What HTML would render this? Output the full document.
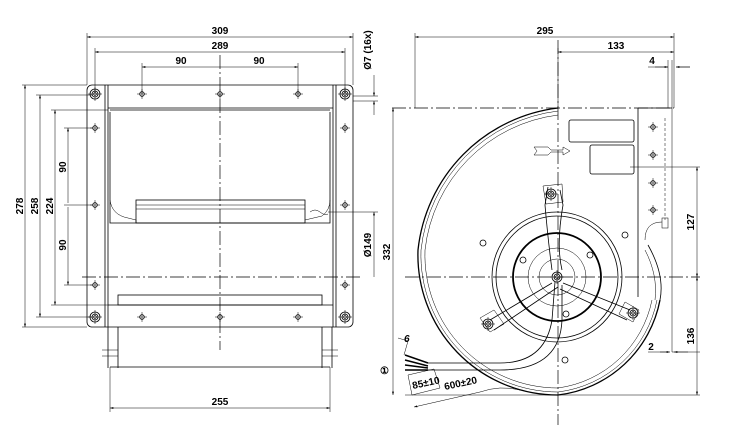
<!DOCTYPE html>
<html><head><meta charset="utf-8"><style>
html,body{margin:0;padding:0;background:#fff}
svg{display:block}
text{font-family:"Liberation Sans",sans-serif;font-weight:bold;font-size:10px;fill:#000}
.l{stroke:#000;stroke-width:0.8;fill:none}
.t{stroke:#000;stroke-width:0.5;fill:none}
.k{stroke:#000;stroke-width:1.3;fill:none}
.c{stroke:#000;stroke-width:0.7;fill:none;stroke-dasharray:14 3 2 3}
</style></head><body>
<svg width="734" height="432" viewBox="0 0 734 432" xmlns="http://www.w3.org/2000/svg">
<defs>
<marker id="a" viewBox="0 0 10 6" refX="10" refY="3" markerWidth="7" markerHeight="4" orient="auto-start-reverse"><path d="M0,0L10,3L0,6z" fill="#000"/></marker>
<g id="h"><circle r="2.3" class="l"/><path d="M-5,0H5M0,-5V5" class="t"/></g>
<g id="ch"><circle r="5" class="l"/><circle r="3" class="l"/><circle r="1.5" class="t"/><path d="M-7,0H7M0,-7V7" class="t"/></g>
</defs>
<!-- LEFT VIEW -->
<rect x="87" y="85" width="266" height="242" rx="5" class="l"/>
<path d="M108,85V327M333,85V327M105,85V327M336,85V327" class="l"/>
<path d="M108,108H333M108,305H333M110,110H330M110,112V223H330V112" class="l"/>
<path d="M110,200Q112,215 128,218L136,220V223" class="t"/>
<rect x="136" y="200" width="169" height="23" class="l"/>
<path d="M136,205H305M136,209H305" class="t"/>
<path d="M305,220L322,216Q330,210 330,200" class="t"/>
<path d="M310,212q5,-4 10,0t8,2" class="t"/>
<rect x="118" y="295" width="204" height="10" class="l"/>
<path d="M220,55V350" class="c"/>
<path d="M82,277H362" class="c"/>
<use href="#ch" x="95" y="94"/><use href="#ch" x="345" y="94"/><use href="#ch" x="95" y="317"/><use href="#ch" x="345" y="317"/>
<use href="#h" x="142" y="94"/><use href="#h" x="220" y="94"/><use href="#h" x="298" y="94"/>
<use href="#h" x="142" y="317"/><use href="#h" x="220" y="317"/><use href="#h" x="298" y="317"/>
<use href="#h" x="95" y="128"/><use href="#h" x="95" y="205"/><use href="#h" x="95" y="285"/>
<use href="#h" x="345" y="128"/><use href="#h" x="345" y="205"/><use href="#h" x="345" y="285"/>
<path d="M108,327V368M118,327V368M110,367H330M322,327V368M332,327V368" class="l"/>
<path d="M102,350H118M102,356H118M322,350H338M322,356H338" class="t"/>
<path d="M110,367V412M330,367V412" class="t"/>
<line x1="110" y1="408" x2="330" y2="408" class="t" marker-start="url(#a)" marker-end="url(#a)"/>
<text x="220" y="405" text-anchor="middle">255</text>
<path d="M87,85V33M353,85V33M95,94V48M345,94V48M142,94V63M298,94V63" class="t"/>
<line x1="87" y1="37" x2="353" y2="37" class="t" marker-start="url(#a)" marker-end="url(#a)"/>
<text x="220" y="34" text-anchor="middle">309</text>
<line x1="95" y1="52" x2="345" y2="52" class="t" marker-start="url(#a)" marker-end="url(#a)"/>
<text x="220" y="49" text-anchor="middle">289</text>
<line x1="142" y1="67" x2="214" y2="67" class="t" marker-start="url(#a)"/>
<line x1="226" y1="67" x2="298" y2="67" class="t" marker-end="url(#a)"/>
<path d="M214,67H226" class="t"/>
<text x="181" y="64" text-anchor="middle">90</text>
<text x="259" y="64" text-anchor="middle">90</text>
<path d="M22,85H87M36,95H92M51,110H108M64,128H92M64,285H92M64,205H92" class="t"/>
<path d="M22,327H87M36,317H92M51,305H108" class="t"/>
<line x1="25" y1="85" x2="25" y2="327" class="t" marker-start="url(#a)" marker-end="url(#a)"/>
<line x1="40" y1="95" x2="40" y2="317" class="t" marker-start="url(#a)" marker-end="url(#a)"/>
<line x1="55" y1="110" x2="55" y2="305" class="t" marker-start="url(#a)" marker-end="url(#a)"/>
<line x1="68" y1="128" x2="68" y2="203" class="t" marker-start="url(#a)"/>
<line x1="68" y1="207" x2="68" y2="285" class="t" marker-end="url(#a)"/>
<text transform="translate(23,206) rotate(-90)" text-anchor="middle">278</text>
<text transform="translate(38,206) rotate(-90)" text-anchor="middle">258</text>
<text transform="translate(53,206) rotate(-90)" text-anchor="middle">224</text>
<text transform="translate(66,167) rotate(-90)" text-anchor="middle">90</text>
<text transform="translate(66,245) rotate(-90)" text-anchor="middle">90</text>
<path d="M353,96H378M353,101H378" class="t"/>
<line x1="374" y1="75" x2="374" y2="96" class="t" marker-end="url(#a)"/>
<line x1="374" y1="115" x2="374" y2="101" class="t" marker-end="url(#a)"/>
<text transform="translate(371,50) rotate(-90)" text-anchor="middle">Ø7 (16x)</text>
<path d="M328,212H378" class="t"/>
<line x1="374" y1="212" x2="374" y2="277" class="t" marker-start="url(#a)"/>
<text transform="translate(371,245) rotate(-90)" text-anchor="middle">Ø149</text>
<!-- RIGHT VIEW -->
<path d="M415,108V33M558,108V48M674,108V33" class="t"/>
<line x1="415" y1="37" x2="674" y2="37" class="t" marker-start="url(#a)" marker-end="url(#a)"/>
<text x="545" y="34" text-anchor="middle">295</text>
<line x1="558" y1="52" x2="674" y2="52" class="t" marker-start="url(#a)" marker-end="url(#a)"/>
<text x="616" y="49" text-anchor="middle">133</text>
<path d="M648,67H668M676,67H690" class="t"/>
<line x1="655" y1="67" x2="668" y2="67" class="t" marker-end="url(#a)"/>
<line x1="690" y1="67" x2="676" y2="67" class="t" marker-end="url(#a)"/>
<text x="652" y="64" text-anchor="middle">4</text>
<path d="M668,60V108M672,60V352" class="t"/>
<path d="M392,108H674" class="c"/>
<path d="M405,277H700" class="c"/>
<path d="M558,40V425" class="c"/>
<path d="M558,108A160,160 0 0 0 418,250A140,140 0 0 0 558,395A118,118 0 0 0 660,300" class="k"/>
<path d="M558,111A157,157 0 0 0 421,250A137,137 0 0 0 558,392A115,115 0 0 0 657,300" class="t"/>
<path d="M558,115A153,153 0 0 0 425,250A133,133 0 0 0 558,388A111,111 0 0 0 652,300" class="t"/>
<path d="M648,245Q665,275 660,300" class="l"/>
<path d="M645,250Q658,275 655,300" class="t"/>
<path d="M638,108V297M638,108H672" class="l"/>
<path d="M665,118V220" class="t" stroke-dasharray="3 2"/>
<rect x="662" y="218" width="6" height="10" class="t"/>
<path d="M662,222Q645,222 645,240" class="t"/>
<use href="#h" x="653" y="127"/><use href="#h" x="653" y="155"/><use href="#h" x="653" y="183"/><use href="#h" x="653" y="210"/>
<rect x="569" y="120" width="65" height="22" rx="2" class="l"/>
<rect x="590" y="145" width="44" height="29" rx="2" class="l"/>
<path d="M534,147H548l3,3h12v-3l7,4l-7,4v-3h-12l-3,3H534l3,-4z" class="t"/>
<circle cx="557" cy="277" r="65" class="l"/>
<circle cx="557" cy="277" r="61" class="l"/>
<circle cx="557" cy="277" r="44" stroke="#000" stroke-width="1.8" fill="none"/>
<circle cx="557" cy="277" r="29" class="t"/>
<circle cx="557" cy="277" r="18" class="t"/>
<path d="M548,187L545,205Q548,240 552,270M560,190L563,205Q556,245 562,270" class="l"/>
<path d="M552,283L490,320M558,287L494,330M563,283L630,310M560,289L627,320" class="l"/>
<path d="M543,186l19,-2l1,18l-17,2z" class="t"/>
<path d="M480,318l14,-8l10,14l-14,8z" class="t"/>
<path d="M625,302l14,8l-6,12l-14,-8z" class="t"/>
<use href="#ch" x="551" y="194"/><use href="#ch" x="488" y="324"/><use href="#ch" x="633" y="313"/>
<use href="#ch" x="557" y="277"/>
<circle cx="483" cy="243" r="3" class="l"/><circle cx="625" cy="235" r="3" class="l"/>
<circle cx="523" cy="260" r="3" class="l"/><circle cx="590" cy="255" r="3" class="l"/>
<circle cx="566" cy="314" r="3" class="l"/><circle cx="565" cy="360" r="3" class="l"/>
<path d="M428,363H500Q545,363 552,320L555,282M428,370H500Q560,370 562,320L562,285" class="l"/>
<path d="M405,355L428,363M405,360L428,366M405,365L428,368M405,370L428,370" stroke="#000" stroke-width="1.5"/>
<path d="M398,338L408,341L404,355" class="t"/>
<path d="M408,375L434,369L440,388L412,395z" class="t"/>
<line x1="414" y1="407" x2="480" y2="392" class="t" marker-start="url(#a)"/>
<path d="M480,392Q500,385 520,390" class="t"/>
<text x="380" y="374" font-size="12" font-weight="normal">①</text>
<text x="404" y="342" font-style="italic">6</text>
<text transform="translate(413,389) rotate(-12)" font-size="8">85±10</text>
<text transform="translate(445,390) rotate(-12)" font-size="9">600±20</text>
<path d="M630,167H700M672,352H700M405,395H700" class="t"/>
<line x1="393" y1="108" x2="393" y2="395" class="t" marker-start="url(#a)" marker-end="url(#a)"/>
<text transform="translate(390,252) rotate(-90)" text-anchor="middle">332</text>
<line x1="697" y1="167" x2="697" y2="277" class="t" marker-start="url(#a)" marker-end="url(#a)"/>
<text transform="translate(694,222) rotate(-90)" text-anchor="middle">127</text>
<line x1="697" y1="277" x2="697" y2="395" class="t" marker-start="url(#a)" marker-end="url(#a)"/>
<text transform="translate(694,336) rotate(-90)" text-anchor="middle">136</text>
<path d="M648,352H668" class="t"/>
<line x1="660" y1="352" x2="670" y2="352" class="t" marker-end="url(#a)"/>
<line x1="688" y1="352" x2="674" y2="352" class="t" marker-end="url(#a)"/>
<text x="651" y="350" text-anchor="middle">2</text>
</svg>
</body></html>
